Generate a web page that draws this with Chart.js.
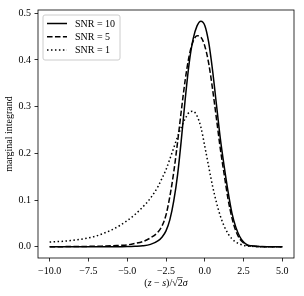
<!DOCTYPE html>
<html><head><meta charset="utf-8">
<script src="https://cdn.jsdelivr.net/npm/chart.js@4"></script>
<style>html,body{margin:0;padding:0;background:#fff}</style>
</head><body>
<canvas id="c" width="304" height="296" style="width:304px;height:296px;display:block"></canvas>
<script>
// ---- data ----
const xs = [-10,-9.5,-9,-8.5,-8,-7.5,-7,-6.5,-6,-5.5,-5,-4.5,-4,-3.5,-3,-2.75,-2.5,-2.25,-2,-1.75,-1.5,-1.25,-1,-0.75,-0.5,-0.25,0,0.25,0.5,0.75,1,1.25,1.5,1.75,2,2.25,2.5,2.75,3,3.5,4,4.5,5];
const snr10 = [0,0,0,0,0,0,0,0,0,0.0002,0.0004,0.001,0.002,0.005,0.013,0.021,0.034,0.058,0.098,0.155,0.233,0.32,0.395,0.445,0.473,0.483,0.474,0.438,0.378,0.305,0.232,0.172,0.118,0.072,0.042,0.022,0.01,0.004,0.002,0.0005,0,0,0];
const snr5 = [0,0,0.0003,0.0004,0.0005,0.0008,0.001,0.0015,0.002,0.003,0.004,0.007,0.011,0.019,0.032,0.045,0.068,0.108,0.16,0.225,0.295,0.36,0.41,0.44,0.452,0.449,0.43,0.393,0.338,0.275,0.21,0.155,0.102,0.062,0.034,0.017,0.008,0.003,0.0015,0.0005,0,0,0];
const snr1 = [0.010,0.011,0.012,0.014,0.016,0.019,0.023,0.029,0.036,0.045,0.056,0.069,0.085,0.104,0.13,0.147,0.165,0.188,0.212,0.236,0.257,0.275,0.288,0.29,0.28,0.256,0.215,0.172,0.13,0.095,0.066,0.044,0.028,0.017,0.01,0.006,0.003,0.0015,0.001,0,0,0,0];
const seriesLabels = ['SNR = 10','SNR = 5','SNR = 1'];
const xTicks = [-10,-7.5,-5,-2.5,0,2.5,5];
const yTicks = [0,0.1,0.2,0.3,0.4,0.5];
const yLabel = 'marginal integrand';

// ---- styling ----
const FONT = 'Liberation Serif, Times New Roman, serif';
const dashes = [[], [5.55,2.4], [1.5,2.475]];
const toPts = ys => xs.map((x,i)=>({x:x,y:ys[i]}));
const fmt = v => { const s = Number(v).toFixed(1); return s.replace('-', '\u2212'); };

const framePlugin = {
  id:'frame',
  afterDraw(chart){
    const {ctx, chartArea:a} = chart;
    ctx.save();
    // spines
    ctx.strokeStyle = '#000'; ctx.lineWidth = 0.8;
    ctx.strokeRect(a.left, a.top, a.right-a.left, a.bottom-a.top);
    // legend
    const lx = a.left+5, ly = a.top+5, lw = 77, lh = 45, r = 2;
    ctx.beginPath();
    ctx.moveTo(lx+r, ly); ctx.lineTo(lx+lw-r, ly); ctx.arcTo(lx+lw, ly, lx+lw, ly+r, r);
    ctx.lineTo(lx+lw, ly+lh-r); ctx.arcTo(lx+lw, ly+lh, lx+lw-r, ly+lh, r);
    ctx.lineTo(lx+r, ly+lh); ctx.arcTo(lx, ly+lh, lx, ly+lh-r, r);
    ctx.lineTo(lx, ly+r); ctx.arcTo(lx, ly, lx+r, ly, r); ctx.closePath();
    ctx.fillStyle = 'rgba(255,255,255,0.8)'; ctx.fill();
    ctx.strokeStyle = '#cccccc'; ctx.lineWidth = 1; ctx.stroke();
    ctx.font = '10px ' + FONT; ctx.fillStyle = '#000'; ctx.textBaseline = 'middle'; ctx.textAlign = 'left';
    chart.data.datasets.forEach((ds, i) => {
      const yy = ly + 8.5 + i*13.3;
      ctx.beginPath(); ctx.setLineDash(ds.borderDash || []); ctx.lineWidth = 1.5; ctx.strokeStyle = '#000';
      ctx.moveTo(lx+4, yy); ctx.lineTo(lx+24, yy); ctx.stroke();
      ctx.setLineDash([]);
      ctx.fillText(ds.label, lx+32, yy+0.5);
    });
    // x axis label (mixed roman / italic, like mathtext)
    const runs = [['(', ''], ['z', 'italic '], [' \u2212 ', ''], ['s', 'italic '], [')/', ''], ['\u221A', ''], ['2', ''], ['\u03C3', 'italic ']];
    let total = 0;
    const widths = runs.map(([t, st]) => { ctx.font = st + '10px ' + FONT; const w = ctx.measureText(t).width; total += w; return w; });
    let x = (a.left + a.right)/2 - total/2; const base = 286;
    ctx.textBaseline = 'alphabetic';
    let sqrtEnd = 0, twoEnd = 0;
    runs.forEach(([t, st], i) => {
      ctx.font = st + '10px ' + FONT; ctx.fillText(t, x, base);
      x += widths[i];
      if (t === '\u221A') sqrtEnd = x;
      if (t === '2') twoEnd = x;
    });
    ctx.beginPath(); ctx.lineWidth = 0.6; ctx.moveTo(sqrtEnd-0.5, base-8.5); ctx.lineTo(twoEnd, base-8.5); ctx.stroke();
    ctx.restore();
  }
};

new Chart(document.getElementById('c').getContext('2d'), {
  type: 'line',
  data: {
    datasets: [snr10, snr5, snr1].map((ys, i) => ({
      label: seriesLabels[i],
      data: toPts(ys),
      borderColor: '#000',
      borderWidth: 1.5,
      borderDash: dashes[i],
      borderCapStyle: 'butt',
      pointRadius: 0,
      fill: false,
      cubicInterpolationMode: 'monotone'
    }))
  },
  options: {
    responsive: false, animation: false, devicePixelRatio: 1,
    layout: { padding: { top: 10, right: 10, left: 0, bottom: 0 } },
    plugins: { legend: { display: false }, tooltip: { enabled: false } },
    scales: {
      x: {
        type: 'linear', min: -10.75, max: 5.75,
        afterBuildTicks: s => { s.ticks = xTicks.map(v => ({ value: v })); },
        afterFit: s => { s.height = 38; },
        ticks: { callback: fmt, font: { family: FONT, size: 10 }, color: '#000', padding: 3.5, maxRotation: 0, autoSkip: false },
        grid: { drawOnChartArea: false, drawTicks: true, tickLength: 3.5, tickColor: '#000', tickWidth: 0.8 },
        border: { display: false }
      },
      y: {
        type: 'linear', min: -0.0241, max: 0.507,
        afterBuildTicks: s => { s.ticks = yTicks.map(v => ({ value: v })); },
        afterFit: s => { s.width = 38; },
        ticks: { callback: fmt, font: { family: FONT, size: 10 }, color: '#000', padding: 3.5, autoSkip: false },
        grid: { drawOnChartArea: false, drawTicks: true, tickLength: 3.5, tickColor: '#000', tickWidth: 0.8 },
        border: { display: false },
        title: { display: true, text: yLabel, color: '#000', font: { family: FONT, size: 10 }, padding: { top: 3, bottom: 0 } }
      }
    }
  },
  plugins: [framePlugin]
});
</script>
</body></html>
